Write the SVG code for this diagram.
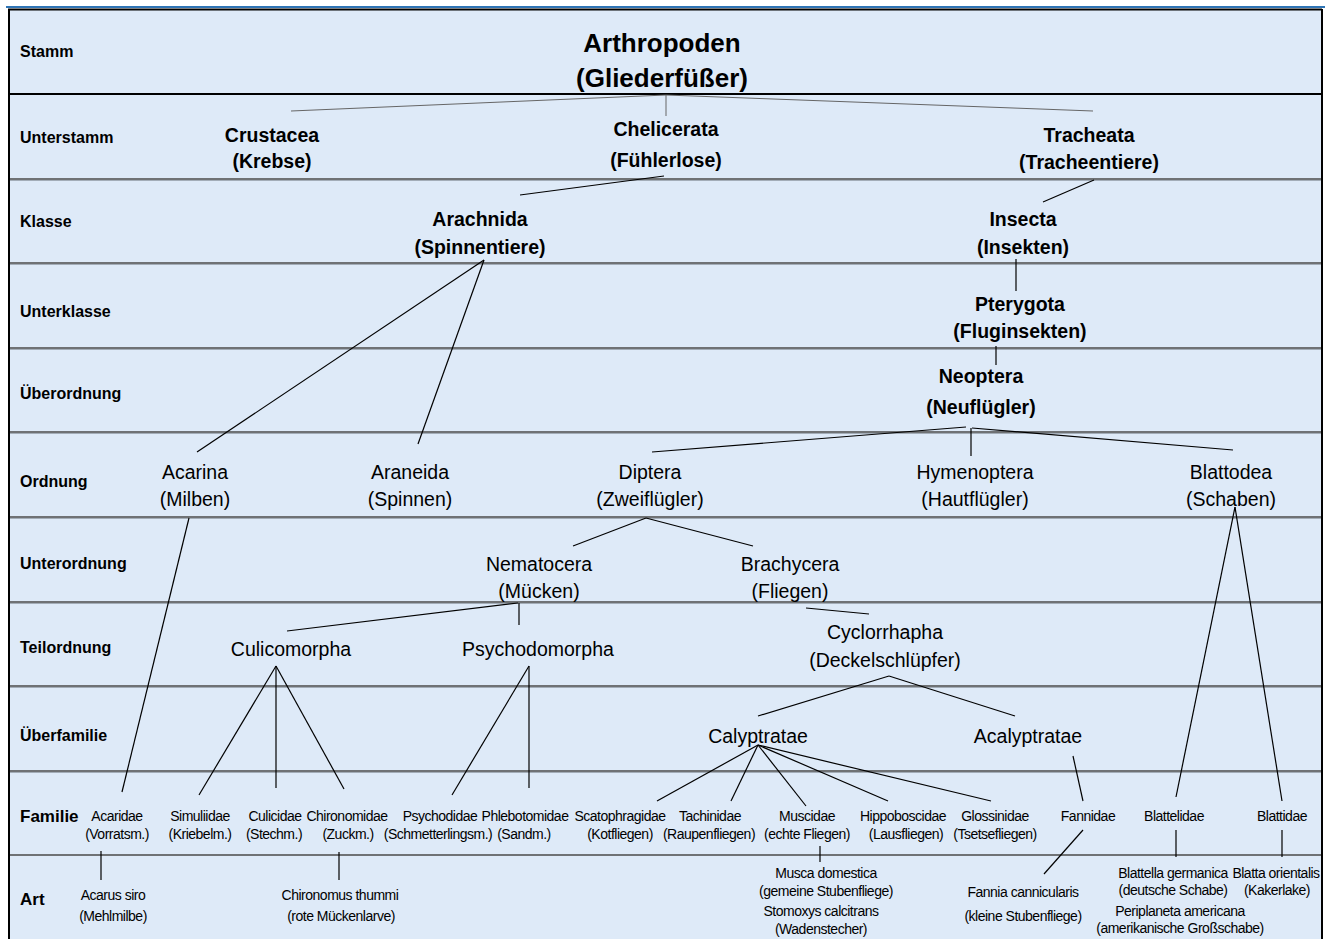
<svg xmlns="http://www.w3.org/2000/svg" width="1325" height="939" viewBox="0 0 1325 939">
<style>
text{font-family:"Liberation Sans",Arial,sans-serif;fill:#000}
.lbl{font-size:16px;font-weight:bold}
.lbl2{font-size:17px;font-weight:bold}
.t1{font-size:26px;font-weight:bold;text-anchor:middle}
.b{font-size:19.5px;font-weight:bold;text-anchor:middle}
.r{font-size:19.5px;text-anchor:middle}
.s{font-size:14px;letter-spacing:-0.5px;text-anchor:middle}
.sep{stroke:#4a4a4a;stroke-width:1.4}
.sep2{stroke:#a3adb8;stroke-width:1}
.c{stroke:#000;stroke-width:1.2;fill:none}
.cg{stroke:#666;stroke-width:1;fill:none}
</style>
<rect x="0" y="0" width="1325" height="939" fill="#fff"/>
<rect x="8" y="9" width="1314" height="931" fill="#deeaf8"/>
<line x1="6" y1="7" x2="1325" y2="7" stroke="#2e74b5" stroke-width="2"/>
<g id="grid">
<line x1="8" y1="9.5" x2="1322" y2="9.5" stroke="#000" stroke-width="2"/>
<line x1="8" y1="94" x2="1322" y2="94" stroke="#000" stroke-width="2"/>
<line class="sep" x1="8" y1="179" x2="1322" y2="179"/><line class="sep2" x1="8" y1="180.5" x2="1322" y2="180.5"/>
<line class="sep" x1="8" y1="263" x2="1322" y2="263"/><line class="sep2" x1="8" y1="264.5" x2="1322" y2="264.5"/>
<line class="sep" x1="8" y1="348" x2="1322" y2="348"/><line class="sep2" x1="8" y1="349.5" x2="1322" y2="349.5"/>
<line class="sep" x1="8" y1="432" x2="1322" y2="432"/><line class="sep2" x1="8" y1="433.5" x2="1322" y2="433.5"/>
<line class="sep" x1="8" y1="517" x2="1322" y2="517"/><line class="sep2" x1="8" y1="518.5" x2="1322" y2="518.5"/>
<line class="sep" x1="8" y1="602" x2="1322" y2="602"/><line class="sep2" x1="8" y1="603.5" x2="1322" y2="603.5"/>
<line class="sep" x1="8" y1="686" x2="1322" y2="686"/><line class="sep2" x1="8" y1="687.5" x2="1322" y2="687.5"/>
<line class="sep" x1="8" y1="771" x2="1322" y2="771"/><line class="sep2" x1="8" y1="772.5" x2="1322" y2="772.5"/>
<line class="sep" x1="8" y1="855" x2="1322" y2="855"/>
<line x1="9" y1="9" x2="9" y2="939" stroke="#000" stroke-width="2"/>
<line x1="1322" y1="9" x2="1322" y2="939" stroke="#000" stroke-width="2"/>
</g>
<g id="row-labels">
<text class="lbl" x="20" y="57">Stamm</text>
<text class="lbl" x="20" y="143">Unterstamm</text>
<text class="lbl" x="20" y="227">Klasse</text>
<text class="lbl" x="20" y="317">Unterklasse</text>
<text class="lbl" x="20" y="399">Überordnung</text>
<text class="lbl" x="20" y="487">Ordnung</text>
<text class="lbl" x="20" y="569">Unterordnung</text>
<text class="lbl" x="20" y="653">Teilordnung</text>
<text class="lbl" x="20" y="741">Überfamilie</text>
<text class="lbl2" x="20" y="822">Familie</text>
<text class="lbl2" x="20" y="905">Art</text>
</g>
<g id="connectors">
<line class="cg" x1="666" y1="95" x2="291" y2="111"/>
<line class="cg" x1="666" y1="95" x2="666" y2="116"/>
<line class="cg" x1="666" y1="95" x2="1093" y2="111"/>
<line class="c" x1="664" y1="176" x2="520" y2="195"/>
<line class="c" x1="1094" y1="180" x2="1043" y2="202"/>
<line class="c" x1="1016" y1="259" x2="1016" y2="291"/>
<line class="c" x1="996" y1="346" x2="996" y2="365"/>
<line class="c" x1="484" y1="260" x2="197" y2="452"/>
<line class="c" x1="484" y1="260" x2="418" y2="444"/>
<line class="c" x1="966" y1="427" x2="652" y2="452"/>
<line class="c" x1="971" y1="428" x2="971" y2="456"/>
<line class="c" x1="972" y1="428" x2="1233" y2="450"/>
<line class="c" x1="646" y1="518" x2="573" y2="546"/>
<line class="c" x1="646" y1="518" x2="753" y2="546"/>
<line class="c" x1="518" y1="603" x2="287" y2="631"/>
<line class="c" x1="519" y1="603" x2="519" y2="625"/>
<line class="c" x1="806" y1="608" x2="869" y2="614"/>
<line class="c" x1="889" y1="676" x2="758" y2="716"/>
<line class="c" x1="889" y1="676" x2="1015" y2="716"/>
<line class="c" x1="758" y1="745" x2="657" y2="801"/>
<line class="c" x1="758" y1="745" x2="731" y2="801"/>
<line class="c" x1="758" y1="745" x2="806" y2="806"/>
<line class="c" x1="758" y1="745" x2="888" y2="801"/>
<line class="c" x1="758" y1="745" x2="991" y2="801"/>
<line class="c" x1="1073" y1="756" x2="1083" y2="801"/>
<line class="c" x1="1083" y1="830" x2="1044" y2="874"/>
<line class="c" x1="1235" y1="507" x2="1176" y2="797"/>
<line class="c" x1="1235" y1="507" x2="1282" y2="801"/>
<line class="c" x1="1176" y1="830" x2="1176" y2="857"/>
<line class="c" x1="1282" y1="830" x2="1282" y2="857"/>
<line class="c" x1="820" y1="846" x2="820" y2="862"/>
<line class="c" x1="189" y1="518" x2="122" y2="792"/>
<line class="c" x1="101" y1="851" x2="101" y2="880"/>
<line class="c" x1="339" y1="852" x2="339" y2="880"/>
<line class="c" x1="276" y1="666" x2="199" y2="795"/>
<line class="c" x1="276" y1="666" x2="276" y2="788"/>
<line class="c" x1="276" y1="666" x2="344" y2="789"/>
<line class="c" x1="529" y1="666" x2="452" y2="795"/>
<line class="c" x1="529" y1="666" x2="529" y2="788"/>
</g>
<g id="n-arthropoden"><text class="t1" x="662" y="51.5">Arthropoden</text><text class="t1" x="662" y="86.5">(Gliederfüßer)</text></g>
<g id="n-crustacea"><text class="b" x="272" y="142">Crustacea</text><text class="b" x="272" y="168">(Krebse)</text></g>
<g id="n-chelicerata"><text class="b" x="666" y="136">Chelicerata</text><text class="b" x="666" y="167">(Fühlerlose)</text></g>
<g id="n-tracheata"><text class="b" x="1089" y="142">Tracheata</text><text class="b" x="1089" y="169">(Tracheentiere)</text></g>
<g id="n-arachnida"><text class="b" x="480" y="226">Arachnida</text><text class="b" x="480" y="254">(Spinnentiere)</text></g>
<g id="n-insecta"><text class="b" x="1023" y="226">Insecta</text><text class="b" x="1023" y="254">(Insekten)</text></g>
<g id="n-pterygota"><text class="b" x="1020" y="311">Pterygota</text><text class="b" x="1020" y="338">(Fluginsekten)</text></g>
<g id="n-neoptera"><text class="b" x="981" y="383">Neoptera</text><text class="b" x="981" y="414">(Neuflügler)</text></g>
<g id="n-acarina"><text class="r" x="195" y="479">Acarina</text><text class="r" x="195" y="506">(Milben)</text></g>
<g id="n-araneida"><text class="r" x="410" y="479">Araneida</text><text class="r" x="410" y="506">(Spinnen)</text></g>
<g id="n-diptera"><text class="r" x="650" y="479">Diptera</text><text class="r" x="650" y="506">(Zweiflügler)</text></g>
<g id="n-hymenoptera"><text class="r" x="975" y="479">Hymenoptera</text><text class="r" x="975" y="506">(Hautflügler)</text></g>
<g id="n-blattodea"><text class="r" x="1231" y="479">Blattodea</text><text class="r" x="1231" y="506">(Schaben)</text></g>
<g id="n-nematocera"><text class="r" x="539" y="571">Nematocera</text><text class="r" x="539" y="598">(Mücken)</text></g>
<g id="n-brachycera"><text class="r" x="790" y="571">Brachycera</text><text class="r" x="790" y="598">(Fliegen)</text></g>
<g id="n-culicomorpha"><text class="r" x="291" y="656">Culicomorpha</text></g>
<g id="n-psychodomorpha"><text class="r" x="538" y="656">Psychodomorpha</text></g>
<g id="n-cyclorrhapha"><text class="r" x="885" y="639">Cyclorrhapha</text><text class="r" x="885" y="667">(Deckelschlüpfer)</text></g>
<g id="n-calyptratae"><text class="r" x="758" y="743">Calyptratae</text></g>
<g id="n-acalyptratae"><text class="r" x="1028" y="743">Acalyptratae</text></g>
<g id="n-acaridae"><text class="s" x="117" y="821">Acaridae</text><text class="s" x="117" y="839">(Vorratsm.)</text></g>
<g id="n-simuliidae"><text class="s" x="200" y="821">Simuliidae</text><text class="s" x="200" y="839">(Kriebelm.)</text></g>
<g id="n-culicidae"><text class="s" x="275" y="821">Culicidae</text><text class="s" x="274" y="839">(Stechm.)</text></g>
<g id="n-chironomidae"><text class="s" x="347" y="821">Chironomidae</text><text class="s" x="348" y="839">(Zuckm.)</text></g>
<g id="n-psychodidae"><text class="s" x="440" y="821">Psychodidae</text><text class="s" x="438" y="839">(Schmetterlingsm.)</text></g>
<g id="n-phlebotomidae"><text class="s" x="525" y="821">Phlebotomidae</text><text class="s" x="524" y="839">(Sandm.)</text></g>
<g id="n-scatophragidae"><text class="s" x="620" y="821">Scatophragidae</text><text class="s" x="620" y="839">(Kotfliegen)</text></g>
<g id="n-tachinidae"><text class="s" x="710" y="821">Tachinidae</text><text class="s" x="709" y="839">(Raupenfliegen)</text></g>
<g id="n-muscidae"><text class="s" x="807" y="821">Muscidae</text><text class="s" x="807" y="839">(echte Fliegen)</text></g>
<g id="n-hippoboscidae"><text class="s" x="903" y="821">Hippoboscidae</text><text class="s" x="906" y="839">(Lausfliegen)</text></g>
<g id="n-glossinidae"><text class="s" x="995" y="821">Glossinidae</text><text class="s" x="995" y="839">(Tsetsefliegen)</text></g>
<g id="n-fannidae"><text class="s" x="1088" y="821">Fannidae</text></g>
<g id="n-blattelidae"><text class="s" x="1174" y="821">Blattelidae</text></g>
<g id="n-blattidae"><text class="s" x="1282" y="821">Blattidae</text></g>
<g id="n-acarus"><text class="s" x="113" y="900">Acarus siro</text><text class="s" x="113" y="921">(Mehlmilbe)</text></g>
<g id="n-chironomus"><text class="s" x="340" y="900">Chironomus thummi</text><text class="s" x="341" y="921">(rote Mückenlarve)</text></g>
<g id="n-musca"><text class="s" x="826" y="878">Musca domestica</text><text class="s" x="826" y="896">(gemeine Stubenfliege)</text></g>
<g id="n-stomoxys"><text class="s" x="821" y="916">Stomoxys calcitrans</text><text class="s" x="821" y="934">(Wadenstecher)</text></g>
<g id="n-fannia"><text class="s" x="1023" y="897">Fannia cannicularis</text><text class="s" x="1023" y="921">(kleine Stubenfliege)</text></g>
<g id="n-blattella"><text class="s" x="1173" y="878">Blattella germanica</text><text class="s" x="1173" y="895">(deutsche Schabe)</text></g>
<g id="n-blatta"><text class="s" x="1276" y="878">Blatta orientalis</text><text class="s" x="1277" y="895">(Kakerlake)</text></g>
<g id="n-periplaneta"><text class="s" x="1180" y="916">Periplaneta americana</text><text class="s" x="1180" y="933">(amerikanische Großschabe)</text></g>
</svg>
